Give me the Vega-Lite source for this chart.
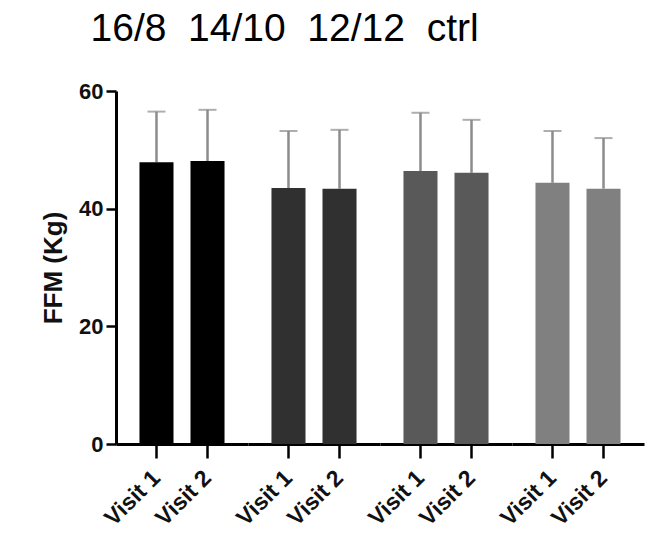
{
  "$schema": "https://vega.github.io/schema/vega-lite/v6.json",
  "padding": {"left": 40, "top": 10, "right": 5, "bottom": 2},
  "title": {"text": "16/8\u00a0\u00a014/10\u00a0\u00a012/12\u00a0\u00a0ctrl", "font": "Liberation Sans", "fontSize": 39, "fontWeight": "normal", "anchor": "start", "color": "black", "offset": 31, "frame": "bounds", "dx": 50},
  "data": {"values": [
    {"group": "16/8", "visit": "Visit 1", "mean": 47.9, "upper": 56.5},
    {"group": "16/8", "visit": "Visit 2", "mean": 48.1, "upper": 56.8},
    {"group": "14/10", "visit": "Visit 1", "mean": 43.5, "upper": 53.2},
    {"group": "14/10", "visit": "Visit 2", "mean": 43.4, "upper": 53.4},
    {"group": "12/12", "visit": "Visit 1", "mean": 46.4, "upper": 56.3},
    {"group": "12/12", "visit": "Visit 2", "mean": 46.1, "upper": 55.1},
    {"group": "ctrl", "visit": "Visit 1", "mean": 44.4, "upper": 53.2},
    {"group": "ctrl", "visit": "Visit 2", "mean": 43.4, "upper": 52.0}
  ]},
  "facet": {"column": {"field": "group", "type": "nominal", "sort": ["16/8", "14/10", "12/12", "ctrl"], "header": {"title": null, "labels": false}}},
  "spacing": 0,
  "spec": {
    "width": 132,
    "height": 353,
    "encoding": {
      "x": {"field": "visit", "type": "nominal", "scale": {"paddingInner": 0.333, "paddingOuter": 0.46}, "axis": {"title": null, "labelAngle": -45, "labelAlign": "right", "labelBaseline": "middle", "tickSize": 14, "tickWidth": 2.5, "domainWidth": 3, "domainColor": "black", "tickColor": "black", "labelFont": "Liberation Sans", "labelFontWeight": "bold", "labelFontSize": 23, "labelColor": "#111", "labelPadding": 16}}
    },
    "layer": [
      {"mark": {"type": "rule", "color": "#8c8c8c", "strokeWidth": 2.5},
       "encoding": {"y": {"field": "mean", "type": "quantitative", "title": "FFM (Kg)", "scale": {"domain": [0, 60]},
         "axis": {"values": [0, 20, 40, 60], "grid": false, "tickSize": 10, "tickWidth": 2.5, "domainWidth": 3, "domainColor": "black", "tickColor": "black", "labelFont": "Liberation Sans", "labelFontWeight": "bold", "labelFontSize": 22, "labelColor": "#111", "labelPadding": 3, "titleFont": "Liberation Sans", "titleFontWeight": "bold", "titleFontSize": 26, "titleColor": "#111", "titlePadding": 12}},
         "y2": {"field": "upper"}}},
      {"mark": {"type": "tick", "color": "#8c8c8c", "thickness": 2, "size": 18},
       "encoding": {"y": {"field": "upper", "type": "quantitative", "title": "FFM (Kg)"}}},
      {"mark": {"type": "bar"},
       "encoding": {"y": {"field": "mean", "type": "quantitative", "title": "FFM (Kg)"},
         "color": {"field": "group", "type": "nominal", "legend": null, "scale": {"domain": ["16/8", "14/10", "12/12", "ctrl"], "range": ["#000000", "#303030", "#595959", "#808080"]}}}}
    ]
  },
  "config": {
    "view": {"stroke": null}
  }
}
